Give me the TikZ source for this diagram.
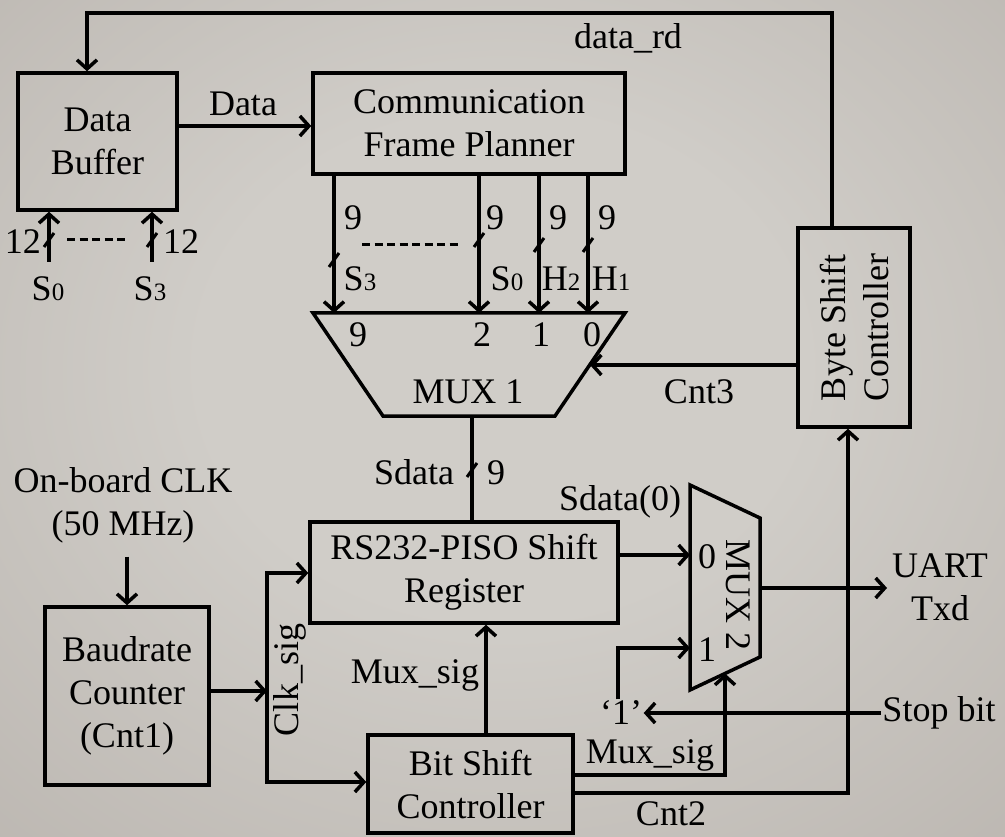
\documentclass[tikz,border=0pt]{standalone}
\usepackage{fontspec}
\setmainfont{Liberation Serif}
\usetikzlibrary{arrows.meta}
\definecolor{bgc}{RGB}{208,205,200}
\definecolor{bgm}{RGB}{178,172,166}
\definecolor{bge}{RGB}{152,144,139}
\pgfdeclareradialshading{bgshade}{\pgfpoint{0bp}{4bp}}{color(0bp)=(bgc); color(15bp)=(bgc); color(50bp)=(bgm); color(72bp)=(bge)}
\newcommand{\smallsub}[1]{{\fontsize{25}{25}\selectfont #1}}
\tikzset{
  every node/.style={font=\fontsize{36}{43}\selectfont, inner sep=0pt, text=black},
  blk/.style={draw, line width=3.5pt, align=center},
  arr/.style={-{Straight Barb[length=9pt,width=20pt]}},
  busmark/.style={line width=3pt},
}
\begin{document}
\begin{tikzpicture}[x=1pt, y=-1pt, line width=3.5pt, line join=miter]
\useasboundingbox (0,0) rectangle (1005,837);
\shade[shading=bgshade] (0,0) rectangle (1005,837);

% ---------- blocks ----------
\node[blk, minimum width=159pt, minimum height=137pt] (buf) at (97.5,141.5) {Data\\Buffer};
\node[blk, minimum width=312pt, minimum height=101pt] (cfp) at (469,123.5) {Communication\\Frame Planner};
\node[blk, minimum width=112pt, minimum height=199pt] (bsc) at (854,327.5) {};
\node[rotate=90, align=center] (bsct) at (bsc.center) {Byte Shift\\Controller};
\node[blk, minimum width=164pt, minimum height=178pt] (baud) at (127,696) {Baudrate\\Counter\\(Cnt1)};
\node[blk, minimum width=308pt, minimum height=101pt] (rs) at (464,572.5) {RS232-PISO Shift\\Register};
\node[blk, minimum width=205pt, minimum height=98pt] (bit) at (470.5,784) {Bit Shift\\Controller};

% ---------- MUX 1 ----------
\coordinate (m1tl) at (313,313);
\coordinate (m1tr) at (625,313);
\coordinate (m1br) at (555,416);
\coordinate (m1bl) at (383,416);
\draw (m1tl) -- (m1tr) -- (m1br) -- (m1bl) -- cycle;
\node (mux1) at (468,392) {MUX 1};
\node (m1l9) at (358,335) {9};
\node (m1l2) at (482,335) {2};
\node (m1l1) at (541,335) {1};
\node (m1l0) at (592,335) {0};

% ---------- MUX 2 ----------
\coordinate (m2tl) at (690,485);
\coordinate (m2tr) at (760,518);
\coordinate (m2br) at (760,657);
\coordinate (m2bl) at (690,690);
\draw (m2tl) -- (m2tr) -- (m2br) -- (m2bl) -- cycle;
\node[rotate=-90] (mux2) at (738,595) {MUX 2};
\node (m2l0) at (707,557) {0};
\node (m2l1) at (707,650) {1};

% ---------- helper coordinates ----------
\coordinate (top13) at (0,13);
\coordinate (xdr) at (832,0);
\coordinate (xbuf) at (87,0);
\coordinate (yData) at (0,126);
\coordinate (s0in) at (49,262);
\coordinate (s3in) at (152,262);
\coordinate (xa) at (334,0);
\coordinate (xb) at (479,0);
\coordinate (xc) at (539,0);
\coordinate (xd) at (588,0);
\coordinate (m1in) at (590,365);
\coordinate (m1out) at (472,416);
\coordinate (j) at (267,691);
\coordinate (rsin) at (0,573);
\coordinate (bitin) at (0,782);
\coordinate (xms) at (486,0);
\coordinate (m2in0) at (690,555);
\coordinate (m2in1) at (690,648);
\coordinate (m2out) at (760,588);
\coordinate (txd) at (887,588);
\coordinate (msy) at (0,775);
\coordinate (m2sel) at (725,673.5);
\coordinate (c2y) at (0,793);
\coordinate (xc2) at (848,0);
\coordinate (xone) at (618,0);

% ---------- connectors ----------
% data_rd feedback
\draw[arr] (bsc.north -| xdr) -- (xdr |- top13) -| (buf.north -| xbuf);
\node (drd) at (628,38) {data\_rd};
% Data
\draw[arr] (buf.east |- yData) -- (cfp.west |- yData);
\node (datal) at (243,104) {Data};
% buffer inputs
\draw[arr] (s0in) -- (s0in |- buf.south);
\draw[arr] (s3in) -- (s3in |- buf.south);
\draw[busmark] (44,247) -- (54,233);
\draw[busmark] (147,247) -- (157,233);
\draw[line width=3pt, dash pattern=on 8pt off 4.5pt] (67,240) -- (127,240);
\node (n12a) at (23,242) {12};
\node (n12b) at (181,242) {12};
\node (s0l) at (48,289) {S\smallsub{0}};
\node (s3l) at (150,289) {S\smallsub{3}};

% CFP -> MUX 1
\draw[arr] (cfp.south -| xa) -- (m1tl -| xa);
\draw[arr] (cfp.south -| xb) -- (m1tl -| xb);
\draw[arr] (cfp.south -| xc) -- (m1tl -| xc);
\draw[arr] (cfp.south -| xd) -- (m1tl -| xd);
\draw[busmark] (329,267) -- (339,253);
\draw[busmark] (474,247) -- (484,233);
\draw[busmark] (534,252) -- (544,238);
\draw[busmark] (583,252) -- (593,238);
\draw[line width=3pt, dash pattern=on 8pt off 4.5pt] (362,245) -- (458,245);
\node (n9a) at (353,218) {9};
\node (n9b) at (495,218) {9};
\node (n9c) at (558,218) {9};
\node (n9d) at (607,218) {9};
\node (s3o) at (360,279) {S\smallsub{3}};
\node (s0o) at (507,279) {S\smallsub{0}};
\node (h2o) at (561,279) {H\smallsub{2}};
\node (h1o) at (611,279) {H\smallsub{1}};

% Cnt3
\draw[arr] (bsc.west |- m1in) -- (m1in);
\node (cnt3) at (699,392) {Cnt3};

% Sdata
\draw (m1out) -- (rs.north -| m1out);
\draw[busmark] (467,477) -- (477,463);
\node (sdl) at (414,472) {Sdata};
\node (sd9) at (496,473) {9};

% clock
\node[align=center] (clk) at (123,505) {On-board CLK\\(50 MHz)};
\draw[arr, shorten <=12pt] (baud.north |- clk.south) -- (baud.north);
\draw[arr] (baud.east |- j) -- (j);
\draw[arr] (j) |- (rs.west |- rsin);
\draw[arr] (j) |- (bit.west |- bitin);
\node[rotate=90] (clks) at (290,680) {Clk\_sig};

% Mux_sig to register
\draw[arr] (bit.north -| xms) -- (rs.south -| xms);
\node (msl) at (415,675) {Mux\_sig};

% register -> MUX 2
\draw[arr] (rs.east |- m2in0) -- (m2in0);
\node (sd0) at (620,502) {Sdata(0)};

% MUX 2 output
\draw[arr] (m2out) -- (txd);
\node[align=center] (uart) at (940,587) {UART\\Txd};

% stop bit
\node (one) at (621,713) {‘1’};
\node (stop) at (939,713) {Stop bit};
\draw[arr] (stop.west) -- (one.east);
\draw[arr] (one.north -| xone) |- (m2in1);

% Mux_sig to MUX 2 select
\draw[arr] (bit.east |- msy) -| (m2sel);
\node (msl2) at (650,755) {Mux\_sig};

% Cnt2
\draw[arr] (bit.east |- c2y) -| (bsc.south -| xc2);
\node (cnt2) at (671,814) {Cnt2};
\end{tikzpicture}
\end{document}
